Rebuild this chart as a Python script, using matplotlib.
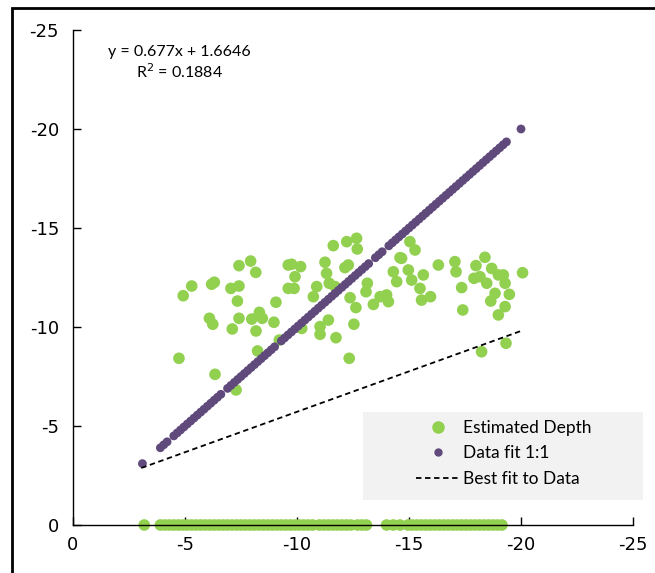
import matplotlib
matplotlib.use("Agg")
import matplotlib.pyplot as plt
from matplotlib.patches import Rectangle
from matplotlib.lines import Line2D

# Estimated depth (scatter cloud)
est_x = [-4.92, -5.30, -6.19, -6.31, -7.41, -7.93, -8.16, -7.05, -7.41, -7.34,
         -6.09, -6.24, -7.11, -7.41, -7.98, -8.32, -8.45, -8.17, -8.97, -9.06,
         -8.24, -4.73, -6.34, -7.28, -9.21, -9.61, -9.61,
         -11.62, -12.22, -12.66, -12.69, -9.76, -10.16, -9.91, -9.87, -10.88, -10.73,
         -11.25, -11.32, -11.44, -11.70, -12.14, -12.29, -12.37, -12.63, -13.14, -13.08,
         -13.41, -13.71, -14.00, -14.08, -14.60, -14.30, -14.45, -11.40, -11.03, -11.03,
         -11.74, -12.54, -10.21, -12.33,
         -15.27, -15.04, -14.67, -14.97, -15.12, -15.64, -15.49, -15.56, -15.96, -16.31,
         -17.05, -17.10, -17.35, -17.40, -17.99, -18.39, -17.90, -18.17, -18.47, -18.69,
         -18.99, -19.21, -19.29, -18.84, -19.48, -18.65, -19.29, -18.99, -20.07, -18.24,
         -19.33]
est_y = [-11.58, -12.07, -12.16, -12.26, -13.10, -13.33, -12.76, -11.95, -12.07, -11.31,
         -10.44, -10.14, -9.90, -10.44, -10.40, -10.74, -10.44, -9.80, -10.24, -11.25,
         -8.79, -8.42, -7.61, -6.82, -9.34, -13.13, -11.95,
         -14.11, -14.31, -14.48, -13.94, -13.17, -13.05, -12.54, -11.95, -12.04, -11.53,
         -13.27, -12.71, -12.21, -12.04, -13.00, -13.13, -11.48, -10.98, -12.21, -11.78,
         -11.14, -11.53, -11.62, -11.28, -13.50, -12.79, -12.29, -10.35, -10.02, -9.63,
         -9.46, -10.14, -9.93, -8.42,
         -13.89, -14.31, -13.47, -12.88, -12.37, -12.63, -11.95, -11.36, -11.53, -13.13,
         -13.30, -12.79, -11.99, -10.86, -13.10, -13.52, -12.46, -12.54, -12.21, -12.96,
         -12.63, -12.63, -12.21, -11.70, -11.65, -11.31, -11.03, -10.61, -12.74, -8.75,
         -9.18]

# Estimated depth points lying on zero
zero_x = [-3.18, -3.90, -4.10, -4.30, -4.50, -4.70, -4.90, -5.10, -5.30, -5.50,
          -5.70, -5.90, -6.10, -6.30, -6.50, -6.70, -6.90, -7.10, -7.30, -7.50,
          -7.70, -7.90, -8.10, -8.30, -8.50, -8.70, -8.90, -9.10, -9.30, -9.50,
          -9.70, -9.90, -10.10, -10.30, -10.50, -10.70, -11.00, -11.20, -11.40, -11.60,
          -11.80, -12.00, -12.20, -12.40, -12.70, -12.90, -13.10, -14.00, -14.30, -14.60,
          -14.96, -15.15, -15.35, -15.55, -15.75, -15.95, -16.15, -16.35, -16.55, -16.75,
          -16.95, -17.15, -17.35, -17.55, -17.75, -17.95, -18.15, -18.35, -18.55, -18.75,
          -18.95, -19.15]
zero_y = [0.0] * len(zero_x)

# Data fit 1:1 (depth vs depth)
fit_depth = [-3.10, -3.90, -4.05, -4.20, -4.50, -4.65, -4.80, -4.95, -5.10, -5.25,
             -5.40, -5.55, -5.70, -5.85, -6.00, -6.15, -6.30, -6.45, -6.60, -6.90,
             -7.05, -7.20, -7.35, -7.50, -7.65, -7.80, -7.95, -8.10, -8.25, -8.40,
             -8.55, -8.70, -8.85, -9.00, -9.30, -9.45, -9.60, -9.75, -9.90, -10.05,
             -10.20, -10.35, -10.50, -10.65, -10.80, -10.95, -11.10, -11.25, -11.40, -11.55,
             -11.70, -11.85, -12.00, -12.15, -12.30, -12.45, -12.60, -12.75, -12.90, -13.05,
             -13.20, -13.50, -13.65, -13.80, -14.10, -14.25, -14.40, -14.55, -14.70, -14.85,
             -15.00, -15.15, -15.30, -15.45, -15.60, -15.75, -15.90, -16.05, -16.20, -16.35,
             -16.50, -16.65, -16.80, -16.95, -17.10, -17.25, -17.40, -17.55, -17.70, -17.85,
             -18.00, -18.15, -18.30, -18.45, -18.60, -18.75, -18.90, -19.05, -19.20, -19.35,
             -20.00]

# Best fit line end points
best_x = [-3.05, -20.0]
best_y = [-2.88, -9.80]

x_ticks = [0, -5, -10, -15, -20, -25]
y_ticks = [0, -5, -10, -15, -20, -25]
equation_text = "y = 0.677x + 1.6646\nR$^2$ = 0.1884"

GREEN = "#92D050"
PURPLE = "#604A7B"

W, H = 655, 573
fig = plt.figure(figsize=(W / 100, H / 100), dpi=100)
ax = fig.add_axes([73 / W, 1 - 525 / H, (633 - 73) / W, (525 - 30) / H])

ax.scatter(est_x, est_y, s=70, color=GREEN, edgecolors="none", zorder=2)
ax.scatter(zero_x, zero_y, s=70, color=GREEN, edgecolors="none", zorder=2, clip_on=False)
ax.scatter(fit_depth, fit_depth, s=40, color=PURPLE, edgecolors="none", zorder=3)
ax.plot(best_x, best_y, color="black", lw=1.3, ls=(0, (3, 2)), zorder=4)

ax.set_xlim(0, -25)
ax.set_ylim(0, -25)
ax.set_xticks(x_ticks)
ax.set_yticks(y_ticks)
ax.set_xticklabels([str(t) for t in x_ticks])
ax.set_yticklabels([str(t) for t in y_ticks])
ax.tick_params(direction="in", length=6, width=1, labelsize=13, pad=8)
ax.tick_params(axis="y", pad=10)
for side in ["top", "right"]:
    ax.spines[side].set_visible(False)
for side in ["left", "bottom"]:
    ax.spines[side].set_linewidth(1)

ax.text(179 / W, 1 - 63 / H, equation_text, transform=fig.transFigure,
        ha="center", va="center", fontsize=11.5, family="Lato", linespacing=1.15)

# Legend background
fig.patches.append(Rectangle((363 / W, 1 - 500 / H), (643 - 363) / W, (500 - 412) / H,
                             transform=fig.transFigure, facecolor="#F2F2F2",
                             edgecolor="none", zorder=1))
handles = [
    Line2D([], [], ls="none", marker="o", markersize=8, color=GREEN),
    Line2D([], [], ls="none", marker="o", markersize=5, color=PURPLE),
    Line2D([], [], color="black", lw=1.3, ls=(0, (3, 2))),
]
labels = ["Estimated Depth", "Data fit 1:1", "Best fit to Data"]
leg = fig.legend(handles, labels, loc="upper left",
                 bbox_to_anchor=(400 / W, 1 - 404 / H), frameon=False,
                 prop={"family": "Lato", "size": 12.5}, handlelength=2.6,
                 handletextpad=0.15, labelspacing=0.55, borderpad=0.4)

# Figure border
fig.patches.append(Rectangle((12 / W, -0.1), 1.2, 1 - 8 / H + 0.1,
                             transform=fig.transFigure, facecolor="none",
                             edgecolor="black", lw=2, zorder=10))

fig.savefig("out.png", dpi=100)
